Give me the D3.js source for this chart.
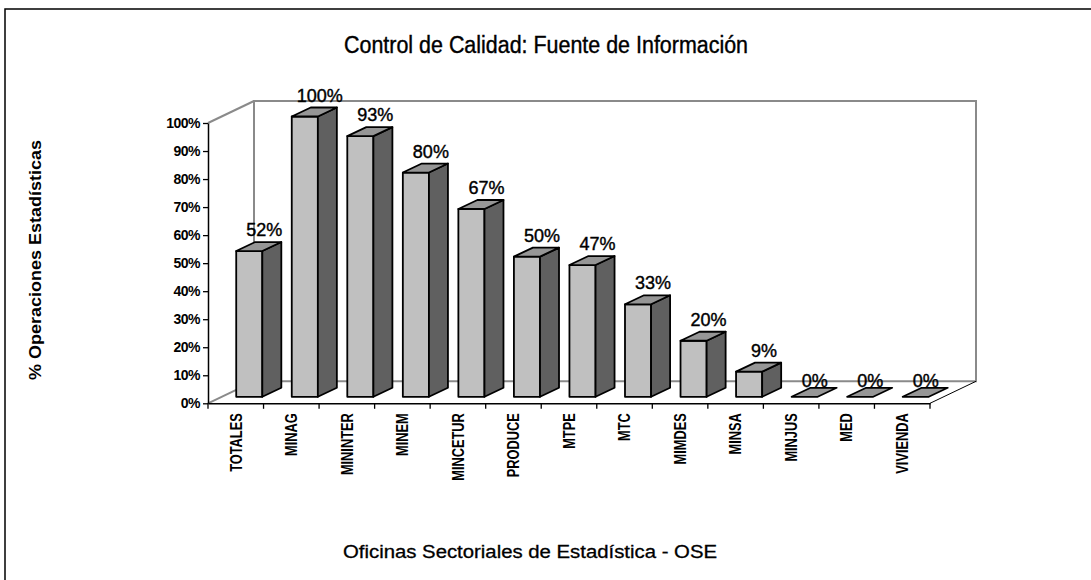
<!DOCTYPE html>
<html>
<head>
<meta charset="utf-8">
<script src="https://cdn.jsdelivr.net/npm/d3@7"></script>
<style>
  html, body { margin: 0; padding: 0; background: #fff; }
  svg { display: block; font-family: "Liberation Sans", Arial, sans-serif; }
</style>
</head>
<body>
<svg id="chart" width="1091" height="580"></svg>
<script>
const categories = ["TOTALES","MINAG","MININTER","MINEM","MINCETUR","PRODUCE","MTPE","MTC","MIMDES","MINSA","MINJUS","MED","VIVIENDA"];
const values = [52,100,93,80,67,50,47,33,20,9,0,0,0];
const tickValues = [0,10,20,30,40,50,60,70,80,90,100];
const title = "Control de Calidad: Fuente de Información";
const xTitle = "Oficinas Sectoriales de Estadística - OSE";
const yTitle = "% Operaciones Estadísticas";

const svg = d3.select("#chart");

// layout
const left = 208, right = 930, y0 = 403.3, y100 = 123;
const wallDX = 46, wallDY = -22;     // depth of the floor / walls
const barDX = 13.5, barDY = -6.5;    // bar plane offset from the front plane
const depthX = 19, depthY = -9;      // depth of each bar

const x = d3.scaleBand().domain(categories).range([left, right])
  .paddingInner(0.53).paddingOuter(0.265);
const y = d3.scaleLinear().domain([0, 100]).range([y0, y100]);
const step = x.step();
const slotStart = c => x(c) - x.paddingOuter() * step;

// outer border
svg.append("rect").attr("x", 5).attr("y", 9).attr("width", 1200).attr("height", 700)
  .attr("fill", "none").attr("stroke", "#000").attr("stroke-width", 1.5);

// back wall & side wall (gray)
const gray = "#8a8a8a";
const wall = svg.append("g").attr("fill", "none").attr("stroke", gray).attr("stroke-width", 2);
const bl = left + wallDX, br = right + wallDX;
const bTop = y(100) + wallDY, bBot = y(0) + wallDY;
wall.append("path").attr("d", `M${bl},${bBot}L${bl},${bTop}L${br},${bTop}L${br},${bBot}L${bl},${bBot}`);
wall.append("path").attr("d", `M${left},${y(100)}L${bl},${bTop}`);
wall.append("path").attr("d", `M${left},${y(0)}L${bl},${bBot}`);
// floor right edge
svg.append("path").attr("d", `M${right},${y(0)}L${br},${bBot}`)
  .attr("stroke", "#000").attr("stroke-width", 1).attr("fill", "none");

// bars
const bars = svg.append("g").attr("stroke", "#000").attr("stroke-width", 1.8).attr("stroke-linejoin", "round");
const w = x.bandwidth();
const yb = y(0) + barDY;
categories.forEach((c, i) => {
  const v = values[i];
  const x0 = x(c) + barDX;
  const yt = y(v) + barDY;
  const g = bars.append("g");
  const pts = p => p.map(q => q.join(",")).join(" ");
  if (v > 0) {
    g.append("polygon").attr("fill", "#c0c0c0")
      .attr("points", pts([[x0, yt], [x0 + w, yt], [x0 + w, yb], [x0, yb]]));
    g.append("polygon").attr("fill", "#606060")
      .attr("points", pts([[x0 + w, yt], [x0 + w + depthX, yt + depthY], [x0 + w + depthX, yb + depthY], [x0 + w, yb]]));
  }
  g.append("polygon").attr("fill", "#969696")
    .attr("points", pts([[x0, yt], [x0 + depthX, yt + depthY], [x0 + w + depthX, yt + depthY], [x0 + w, yt]]));
});

// value labels
svg.append("g").selectAll("text").data(categories).join("text")
  .attr("x", (c, i) => x(c) + barDX + w / 2 + (values[i] > 0 ? 15 : 10))
  .attr("y", (c, i) => y(values[i]) + barDY - (values[i] > 0 ? 15 : 10))
  .attr("text-anchor", "middle")
  .attr("font-size", 18)
  .attr("fill", "#000").attr("stroke", "#000").attr("stroke-width", 0.4)
  .text((c, i) => values[i] + "%");

// y axis
const yAxis = svg.append("g").attr("transform", `translate(${left},0)`)
  .call(d3.axisLeft(y).tickValues(tickValues).tickSize(5).tickSizeOuter(0).tickPadding(3).tickFormat(d => d + "%"));
yAxis.select(".domain").attr("stroke", "#000").attr("stroke-width", 1.5);
yAxis.selectAll(".tick line").attr("stroke", "#000").attr("stroke-width", 1.3);
yAxis.selectAll(".tick text").attr("font-size", 14).attr("font-weight", "bold")
  .attr("letter-spacing", -0.5).attr("fill", "#000")
  .attr("font-family", "'Liberation Sans', Arial, sans-serif");

// x axis baseline and slot ticks
const xAxis = svg.append("g").attr("transform", `translate(0,${y(0)})`)
  .call(d3.axisBottom(x).tickSize(0).tickSizeOuter(0).tickPadding(0));
xAxis.select(".domain").attr("stroke", "#000").attr("stroke-width", 1.5);
xAxis.selectAll(".tick text")
  .attr("font-size", 16).attr("font-weight", "bold").attr("fill", "#000")
  .attr("font-family", "'Liberation Sans', Arial, sans-serif")
  .attr("text-anchor", "end")
  .attr("dy", "0.36em")
  .attr("transform", "translate(0,10) rotate(-90) scale(0.8,1)")
  .attr("x", 0).attr("y", 0);
const bounds = categories.map(slotStart).concat([right]);
svg.append("g").selectAll("line").data(bounds).join("line")
  .attr("x1", d => d).attr("x2", d => d)
  .attr("y1", y(0)).attr("y2", y(0) + 5.5)
  .attr("stroke", "#000").attr("stroke-width", 1.3);

// titles
svg.append("text").attr("transform", "translate(546,53) scale(1,1.12)").attr("text-anchor", "middle")
  .attr("font-size", 21).attr("textLength", 404).attr("lengthAdjust", "spacingAndGlyphs")
  .attr("stroke", "#000").attr("stroke-width", 0.35)
  .text(title);
svg.append("text").attr("x", 530).attr("y", 558).attr("text-anchor", "middle")
  .attr("font-size", 18).attr("textLength", 374).attr("lengthAdjust", "spacingAndGlyphs")
  .attr("stroke", "#000").attr("stroke-width", 0.3)
  .text(xTitle);
svg.append("text").attr("transform", "translate(41,260) rotate(-90)").attr("text-anchor", "middle")
  .attr("font-size", 17).attr("font-weight", "bold").attr("textLength", 240).attr("lengthAdjust", "spacingAndGlyphs")
  .text(yTitle);
</script>
</body>
</html>
